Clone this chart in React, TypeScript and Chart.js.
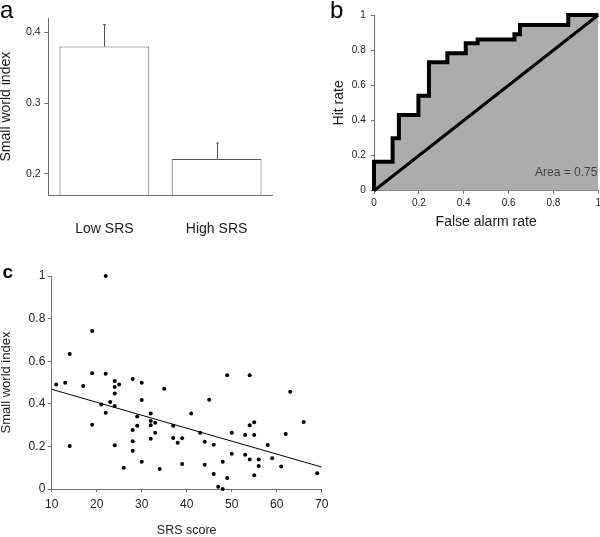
import React, { useEffect, useRef } from "react";
import { Chart, registerables } from "chart.js";

Chart.register(...registerables);

const FONT = "'Liberation Sans', Arial, Helvetica, sans-serif";

// Panel a
const BAR_LABELS = ["Low SRS", "High SRS"];
const BAR_VALUES = [0.38, 0.221];
const BAR_ERRORS = [0.031, 0.0225];
const A_TICKS = [0.2, 0.3, 0.4];

// Panel b (ROC corners: false alarm rate, hit rate)
const ROC_FA = [0, 0, 0.083, 0.111, 0.198, 0.245, 0.327, 0.409, 0.462, 0.626, 0.651, 0.866, 1];
const ROC_HIT = [0, 0.165, 0.298, 0.431, 0.541, 0.731, 0.782, 0.839, 0.861, 0.89, 0.943, 1, 1];
const CHANCE_X = [0, 1];
const CHANCE_Y = [0, 1];
const AREA_LABEL = "Area = 0.75";

// Panel c
const SRS = [11, 13, 14, 14, 17, 19, 19, 19, 21, 22, 22, 22, 23, 24, 24, 24, 24, 24, 25, 26, 28, 28, 28, 28, 29, 29, 30, 30, 30, 32, 32, 32, 32, 33, 33, 34, 35, 37, 37, 38, 39, 39, 41, 43, 44, 44, 45, 46, 46, 47, 48, 48, 49, 49, 50, 50, 53, 53, 54, 54, 54, 55, 55, 55, 56, 56, 58, 59, 61, 62, 63, 66, 69];
const SWI = [0.491, 0.499, 0.634, 0.202, 0.484, 0.742, 0.543, 0.302, 0.397, 1.0, 0.541, 0.358, 0.408, 0.507, 0.479, 0.448, 0.39, 0.205, 0.491, 0.1, 0.516, 0.277, 0.224, 0.18, 0.34, 0.297, 0.499, 0.418, 0.128, 0.355, 0.319, 0.299, 0.236, 0.311, 0.264, 0.094, 0.471, 0.297, 0.239, 0.217, 0.238, 0.117, 0.355, 0.264, 0.222, 0.114, 0.419, 0.208, 0.07, 0.011, 0.128, 0.0, 0.534, 0.052, 0.264, 0.166, 0.254, 0.161, 0.534, 0.299, 0.138, 0.313, 0.254, 0.064, 0.138, 0.108, 0.207, 0.144, 0.106, 0.258, 0.457, 0.315, 0.074];
const FIT_X = [10, 70];
const FIT_Y = [0.468, 0.103];

const AXIS = "#6e6e6e";
const TXT = "#1a1a1a";

const plainNum = (v: any) => String(parseFloat(Number(v).toFixed(2)));

export default function App() {
  const aRef = useRef<HTMLCanvasElement>(null);
  const bRef = useRef<HTMLCanvasElement>(null);
  const cRef = useRef<HTMLCanvasElement>(null);

  useEffect(() => {
    Chart.defaults.font.family = FONT;
    const charts: Chart[] = [];

    const errorBars = {
      id: "errorBars",
      afterDatasetsDraw(chart: any) {
        const meta = chart.getDatasetMeta(0);
        const y = chart.scales.y;
        const ctx = chart.ctx;
        ctx.save();
        ctx.strokeStyle = "#555";
        ctx.lineWidth = 1;
        meta.data.forEach((bar: any, i: number) => {
          const x = Math.round(bar.x) + 0.5;
          const y0 = y.getPixelForValue(BAR_VALUES[i]);
          const y1 = y.getPixelForValue(BAR_VALUES[i] + BAR_ERRORS[i]);
          ctx.beginPath();
          ctx.moveTo(x, y0);
          ctx.lineTo(x, y1);
          ctx.moveTo(x - 1.5, y1);
          ctx.lineTo(x + 1.5, y1);
          ctx.stroke();
        });
        ctx.restore();
      },
    };

    charts.push(
      new Chart(aRef.current!, {
        type: "bar",
        data: {
          labels: BAR_LABELS,
          datasets: [
            {
              data: BAR_VALUES,
              backgroundColor: "#ffffff",
              borderColor: "#555",
              borderWidth: 1,
              barPercentage: 0.8,
              categoryPercentage: 1.0,
            },
          ],
        },
        options: {
          responsive: false,
          animation: false,
          layout: { padding: { left: 0, top: 18.3, right: 27.3, bottom: 0 } },
          plugins: { legend: { display: false }, tooltip: { enabled: false } },
          scales: {
            x: {
              grid: { display: false },
              border: { display: true, color: AXIS },
              ticks: { font: { size: 14 }, color: TXT, padding: 17.6 },
              afterFit: (s: any) => {
                s.height = 65;
              },
            },
            y: {
              min: 0.17,
              max: 0.42,
              afterBuildTicks: (s: any) => {
                s.ticks = A_TICKS.map((v) => ({ value: v }));
              },
              ticks: {
                font: { size: 10.5 },
                color: "#222",
                padding: 3.6,
                callback: (v: any) => Number(v).toFixed(1),
              },
              grid: { drawOnChartArea: false, tickLength: 4, color: AXIS },
              border: { color: AXIS },
              title: {
                display: true,
                text: "Small world index",
                font: { size: 14, lineHeight: 1 },
                color: TXT,
                padding: { top: -1, bottom: 0 },
              },
              afterFit: (s: any) => {
                s.width = 48.3;
              },
            },
          },
        },
        plugins: [errorBars],
      } as any)
    );

    const areaText = {
      id: "areaText",
      afterDatasetsDraw(chart: any) {
        const { ctx, scales } = chart;
        ctx.save();
        ctx.font = `12px ${FONT}`;
        ctx.fillStyle = "#444";
        ctx.textAlign = "right";
        ctx.textBaseline = "middle";
        ctx.fillText(AREA_LABEL, scales.x.getPixelForValue(0.996), scales.y.getPixelForValue(0.1));
        ctx.restore();
      },
    };

    charts.push(
      new Chart(bRef.current!, {
        type: "line",
        data: {
          datasets: [
            {
              data: ROC_FA.map((x, i) => ({ x, y: ROC_HIT[i] })),
              stepped: "before",
              borderColor: "#000",
              borderWidth: 4,
              backgroundColor: "#acacac",
              fill: "origin",
              pointRadius: 0,
              clip: 6,
            },
            {
              data: CHANCE_X.map((x, i) => ({ x, y: CHANCE_Y[i] })),
              borderColor: "#000",
              borderWidth: 3,
              fill: false,
              pointRadius: 0,
              clip: 4,
            },
          ],
        },
        options: {
          responsive: false,
          animation: false,
          layout: { padding: { left: 0, top: 15, right: 11.7, bottom: 0 } },
          plugins: {
            legend: { display: false },
            tooltip: { enabled: false },
            filler: { drawTime: "beforeDatasetsDraw" },
          },
          scales: {
            x: {
              type: "linear",
              min: 0,
              max: 1,
              ticks: { stepSize: 0.2, font: { size: 10 }, color: "#222", padding: 3.6, callback: plainNum },
              grid: { drawOnChartArea: false, tickLength: 3, color: AXIS },
              border: { color: AXIS },
              title: {
                display: true,
                text: "False alarm rate",
                font: { size: 14, lineHeight: 1 },
                color: TXT,
                padding: { top: 0, bottom: 31.3 },
              },
              afterFit: (s: any) => {
                s.height = 69.3;
              },
            },
            y: {
              type: "linear",
              min: 0,
              max: 1,
              ticks: { stepSize: 0.2, font: { size: 10 }, color: "#222", padding: 5.3, callback: plainNum },
              grid: { drawOnChartArea: false, tickLength: 3, color: AXIS },
              border: { color: AXIS },
              title: {
                display: true,
                text: "Hit rate",
                font: { size: 14, lineHeight: 1 },
                color: TXT,
                padding: { top: 32, bottom: 0 },
              },
              afterFit: (s: any) => {
                s.width = 74;
              },
            },
          },
        },
        plugins: [areaText],
      } as any)
    );

    charts.push(
      new Chart(cRef.current!, {
        type: "scatter",
        data: {
          datasets: [
            {
              data: SRS.map((x, i) => ({ x, y: SWI[i] })),
              backgroundColor: "#000",
              borderWidth: 0,
              pointRadius: 2,
              clip: false,
            },
            {
              type: "line",
              data: FIT_X.map((x, i) => ({ x, y: FIT_Y[i] })),
              borderColor: "#000",
              borderWidth: 1,
              pointRadius: 0,
              fill: false,
            },
          ],
        },
        options: {
          responsive: false,
          animation: false,
          layout: { padding: { left: 0, top: 16, right: 18.3, bottom: 0 } },
          plugins: { legend: { display: false }, tooltip: { enabled: false } },
          scales: {
            x: {
              type: "linear",
              min: 10,
              max: 70,
              ticks: { stepSize: 10, font: { size: 12 }, color: "#222", padding: 5 },
              grid: { drawOnChartArea: false, tickLength: 3, color: AXIS },
              border: { color: AXIS },
              title: {
                display: true,
                text: "SRS score",
                font: { size: 12.5, lineHeight: 1 },
                color: TXT,
                padding: { top: 0, bottom: 0 },
              },
              afterFit: (s: any) => {
                s.height = 48;
              },
            },
            y: {
              type: "linear",
              min: 0,
              max: 1,
              ticks: { stepSize: 0.2, font: { size: 12 }, color: "#222", padding: 2.4, callback: plainNum },
              grid: { drawOnChartArea: false, tickLength: 4, color: AXIS },
              border: { color: AXIS },
              title: {
                display: true,
                text: "Small world index",
                font: { size: 13, lineHeight: 1 },
                color: TXT,
                padding: { top: 0, bottom: 0 },
              },
              afterFit: (s: any) => {
                s.width = 51.7;
              },
            },
          },
        },
      } as any)
    );

    return () => charts.forEach((c) => c.destroy());
  }, []);

  const letter = (t: string, left: number, top: number, size: number, bold = false) => (
    <div
      style={{
        position: "absolute",
        left,
        top,
        fontFamily: FONT,
        fontSize: size,
        lineHeight: `${size}px`,
        fontWeight: bold ? 700 : 400,
        color: "#000",
      }}
    >
      {t}
    </div>
  );

  return (
    <div
      style={{
        position: "absolute",
        left: 0,
        top: 0,
        width: 600,
        height: 537,
        overflow: "hidden",
        background: "#fff",
      }}
    >
      <canvas ref={aRef} width={300} height={260} style={{ position: "absolute", left: 0, top: 0 }} />
      <canvas ref={bRef} width={310} height={260} style={{ position: "absolute", left: 300, top: 0 }} />
      <canvas ref={cRef} width={340} height={277} style={{ position: "absolute", left: 0, top: 260 }} />
      {letter("a", 0, -2, 24)}
      {letter("b", 330, -2, 24)}
      {letter("c", 2.5, 261.6, 19, true)}
    </div>
  );
}
